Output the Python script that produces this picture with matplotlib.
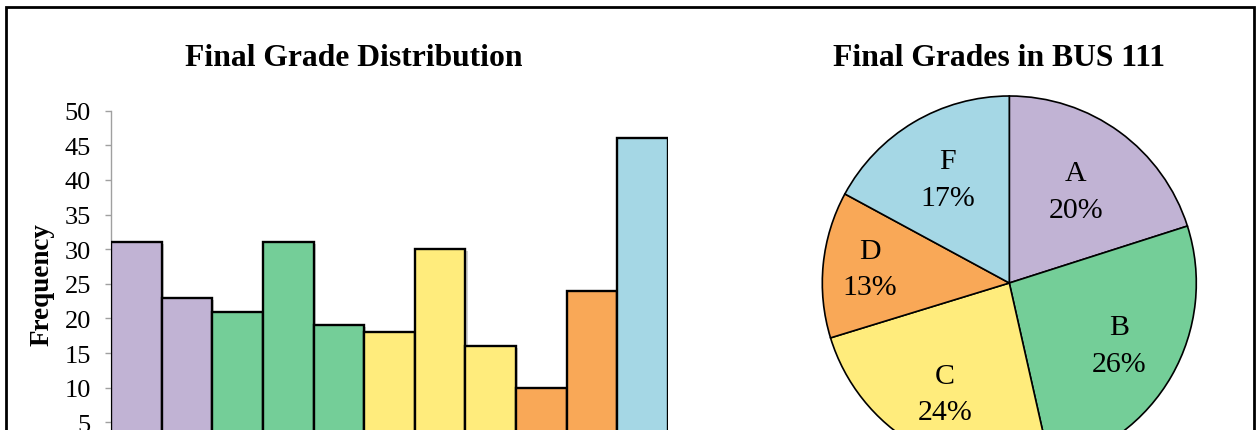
import matplotlib
matplotlib.use("Agg")
import matplotlib.pyplot as plt
import matplotlib.patheffects as pe
from matplotlib.patches import Rectangle
import numpy as np

# ---- data ----
bin_values = [31, 23, 21, 31, 19, 18, 30, 16, 10, 24, 46]
bin_grades = ["A", "A", "B", "B", "B", "C", "C", "C", "D", "D", "F"]
grades = ["A", "B", "C", "D", "F"]
grade_counts = [sum(v for v, g in zip(bin_values, bin_grades) if g == gr) for gr in grades]
y_ticks = [0, 5, 10, 15, 20, 25, 30, 35, 40, 45, 50]

# ---- style ----
grade_colors = {"A": "#C1B3D4", "B": "#74CE98", "C": "#FFEC7C", "D": "#F9A857", "F": "#A5D7E5"}
label_dist = [0.605, 0.675, 0.685, 0.75, 0.645]

plt.rcParams["font.family"] = ["Liberation Serif", "DejaVu Serif"]

W, H = 1259, 431
fig = plt.figure(figsize=(W / 100, H / 100), dpi=100)

# outer frame
fig.patches.append(Rectangle((6 / W, -0.5), (1254 - 6) / W, 1 - 8 / H + 0.5,
                             transform=fig.transFigure, fill=False,
                             edgecolor="black", linewidth=2.0))

# ---- histogram ----
y0_px, y50_px = 458.0, 111.7
ax = fig.add_axes([111 / W, 1 - y0_px / H, 557 / W, (y0_px - y50_px) / H])
x = np.arange(len(bin_values))
bars = ax.bar(x, bin_values, width=1.0, align="edge",
              color=[grade_colors[g] for g in bin_grades],
              edgecolor="black", linewidth=1.7, zorder=3)
for b in bars:
    b.set_path_effects([pe.SimplePatchShadow(offset=(1.5, -1.5), shadow_rgbFace="black", alpha=0.18),
                        pe.Normal()])
ax.set_xlim(0, len(bin_values))
ax.set_ylim(0, 50)
ax.set_yticks(y_ticks)
ax.set_xticks([])
for s in ["top", "right", "bottom"]:
    ax.spines[s].set_visible(False)
ax.spines["left"].set_color("#A0A0A0")
ax.spines["left"].set_linewidth(1.0)
ax.tick_params(axis="y", direction="out", length=4.5, width=1.0, color="#A0A0A0",
               labelsize=19, pad=10)
ax.set_ylabel("Frequency", fontsize=19.5, fontweight="bold", labelpad=7)
ax.patch.set_alpha(0)

fig.text(354 / W, 1 - 59 / H, "Final Grade Distribution", ha="center", va="center",
         fontsize=22.8, fontweight="bold")

# ---- pie ----
cx, cy, r = 1009.3, 284.0, 187.0
pax = fig.add_axes([(cx - r) / W, (H - cy - r) / H, 2 * r / W, 2 * r / H])
wedges, texts, autotexts = pax.pie(grade_counts, colors=[grade_colors[g] for g in grades],
                                   startangle=90, counterclock=False, autopct="%1.0f%%",
                                   wedgeprops=dict(edgecolor="black", linewidth=1.2),
                                   textprops=dict(fontsize=21.5))
for w, t, g, d in zip(wedges, autotexts, grades, label_dist):
    ang = np.deg2rad((w.theta1 + w.theta2) / 2)
    t.set_position((d * np.cos(ang), d * np.sin(ang)))
    t.set_text(f"{g}\n{t.get_text()}")
    t.set_linespacing(1.52)
pax.set_xlim(-1, 1)
pax.set_ylim(-1, 1)
pax.set_aspect("equal")
pax.axis("off")

fig.text(998.5 / W, 1 - 59 / H, "Final Grades in BUS 111", ha="center", va="center",
         fontsize=22.8, fontweight="bold")

fig.savefig("out.png", dpi=100)
